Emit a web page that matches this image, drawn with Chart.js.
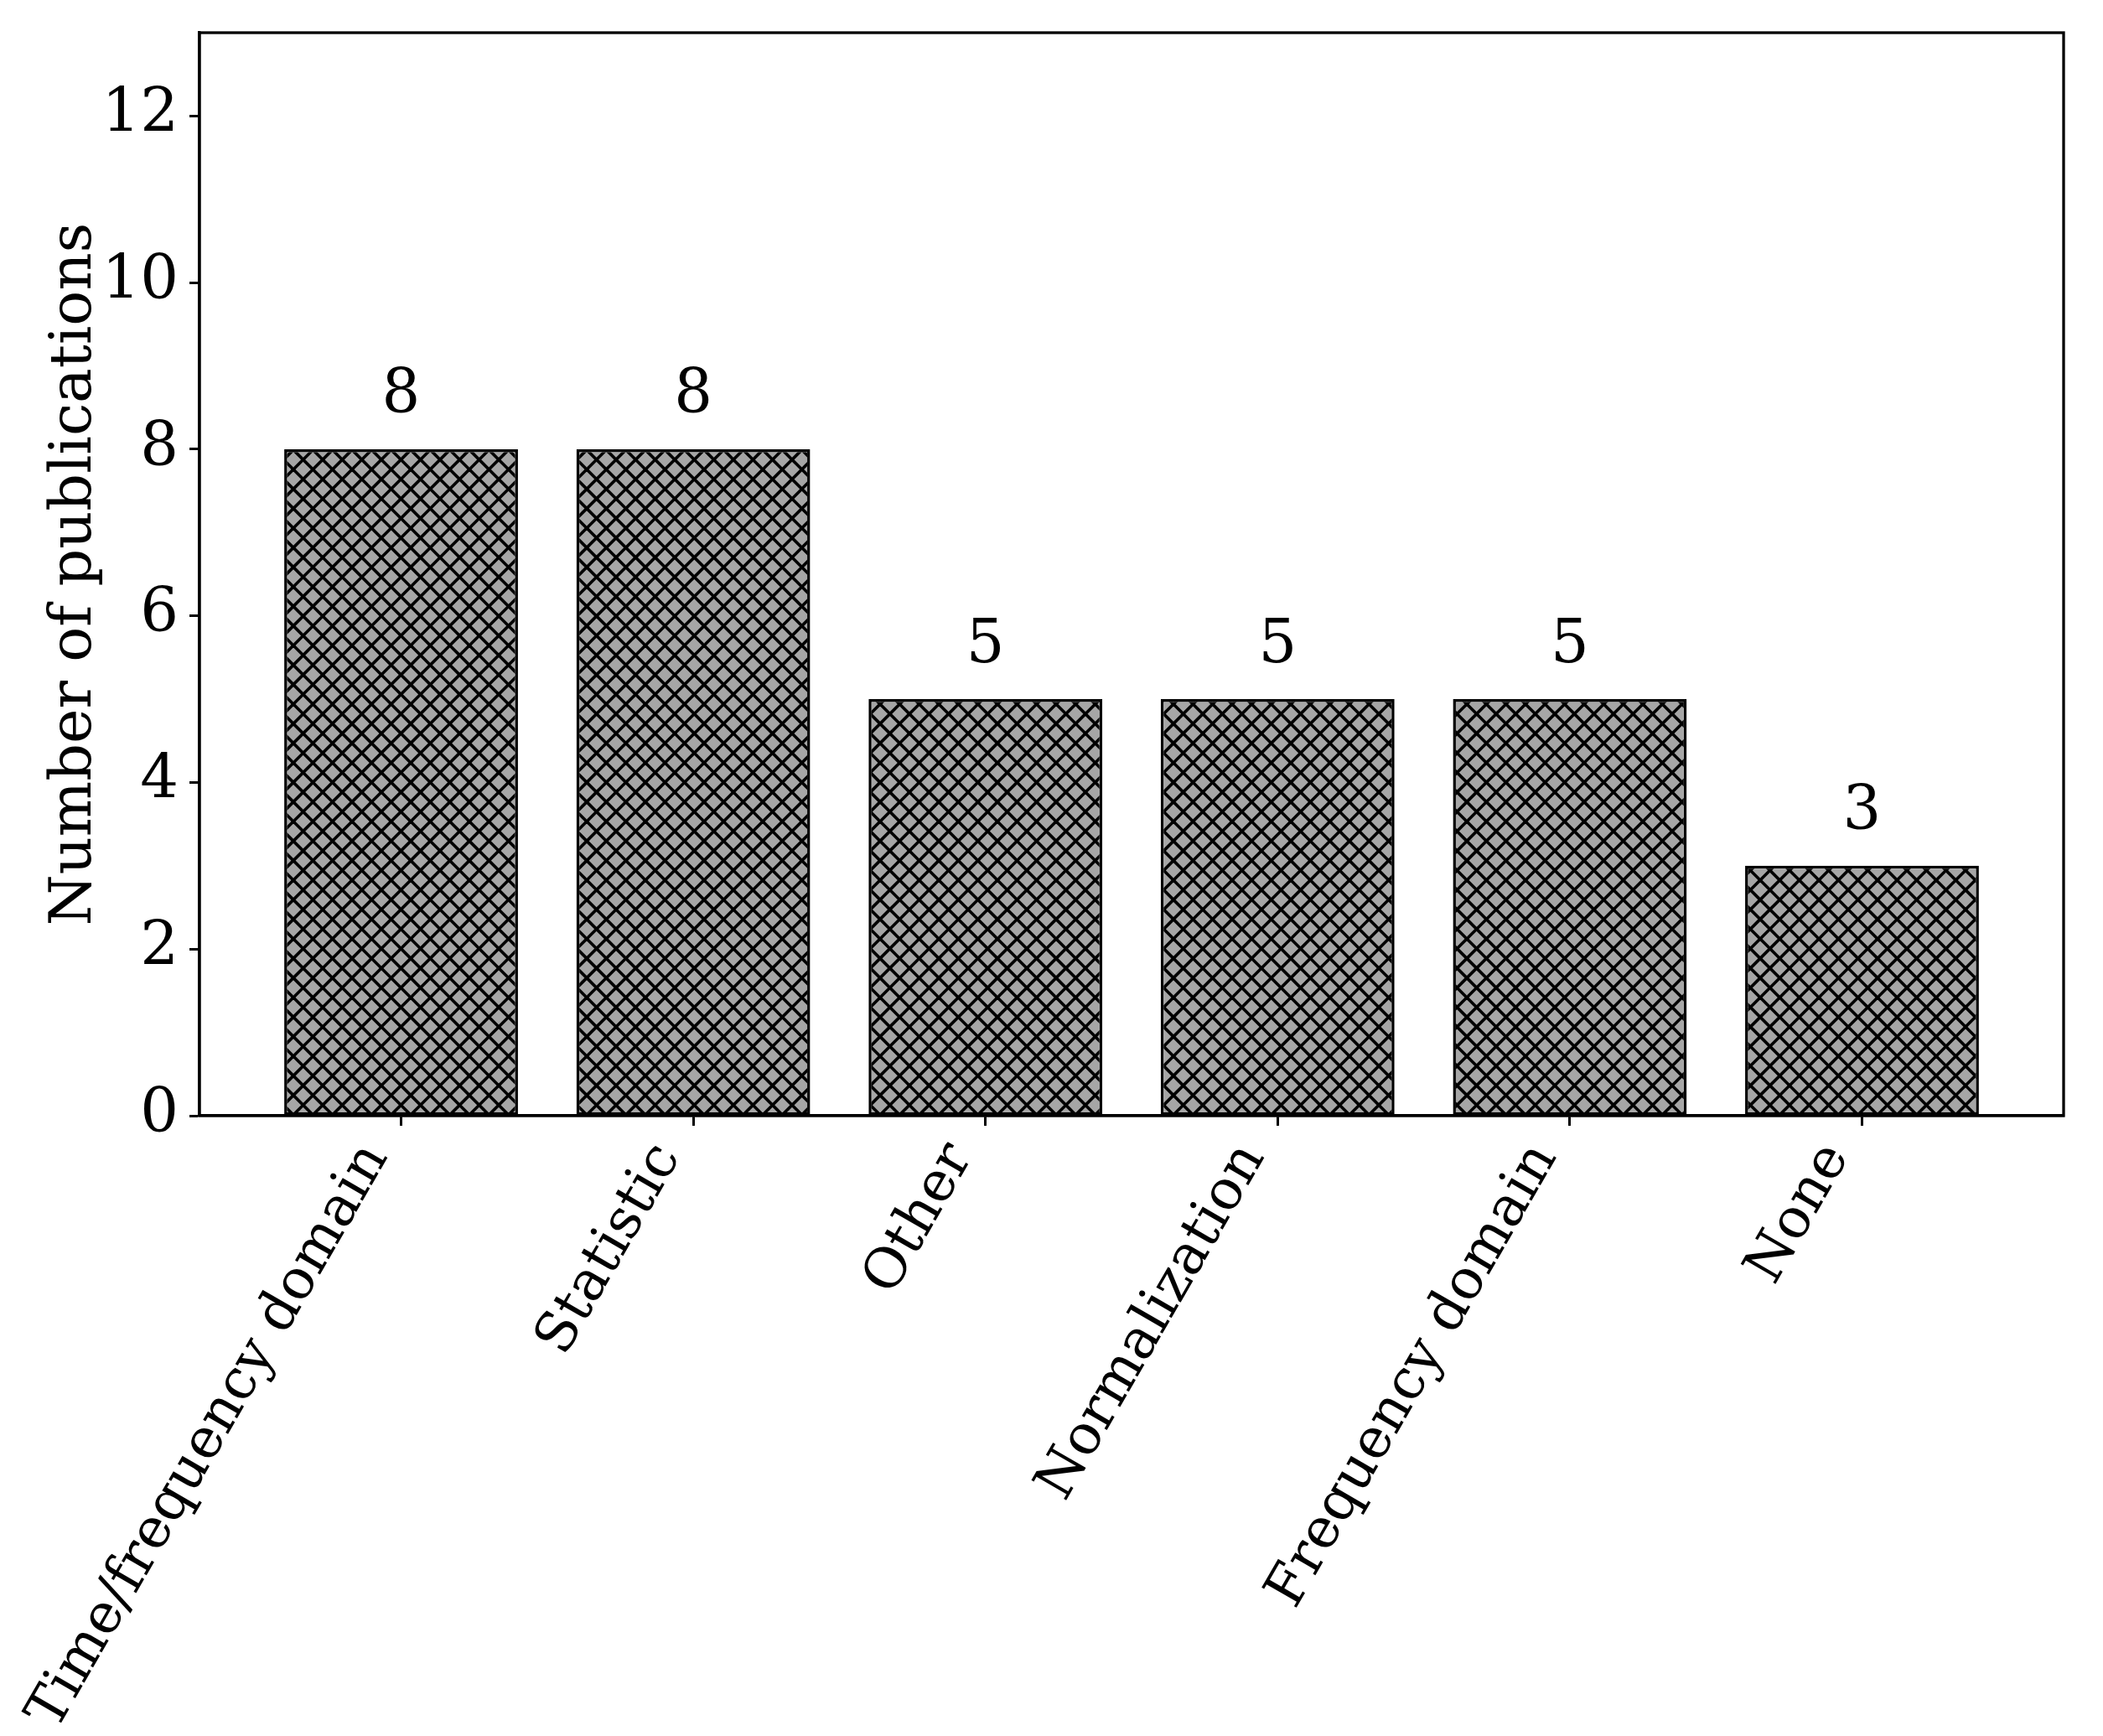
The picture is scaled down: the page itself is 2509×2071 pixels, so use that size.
<!DOCTYPE html>
<html lang="en">
<head>
    <meta charset="UTF-8">
    <title>Number of publications</title>
    <script src="https://cdn.jsdelivr.net/npm/chart.js"></script>
    <style>
        html, body { margin: 0; padding: 0; background: #fff; }
        #wrap { width: 2509px; height: 2071px; }
    </style>
</head>
<body>
    <div id="wrap"><canvas id="chart"></canvas></div>

    <script>
        // data
        const categories = ['Time/frequency domain', 'Statistic', 'Other', 'Normalization', 'Frequency domain', 'None'];
        const counts = [8, 8, 5, 5, 5, 3];
        const yTicks = [0, 2, 4, 6, 8, 10, 12];

        const FONT = "'DejaVu Serif', 'Liberation Serif', serif";
        const FS = 72;

        // grey fill with black cross hatch (like matplotlib hatch='xx')
        function makeHatch() {
            const size = 70, step = size / 3;
            const c = document.createElement('canvas');
            c.width = size; c.height = size;
            const g = c.getContext('2d');
            g.fillStyle = '#a6a6a6';
            g.fillRect(0, 0, size, size);
            g.strokeStyle = '#000';
            g.lineWidth = 3.6;
            for (let k = -4; k <= 8; k++) {
                const o = k * step;
                g.beginPath(); g.moveTo(o - size, -size); g.lineTo(o + 2 * size, 2 * size); g.stroke();
                g.beginPath(); g.moveTo(o + size, -size); g.lineTo(o - 2 * size, 2 * size); g.stroke();
            }
            return g.createPattern(c, 'repeat');
        }

        // box around the plot area + value labels above bars
        const extras = {
            id: 'extras',
            afterDatasetsDraw(chart) {
                const ctx = chart.ctx;
                const a = chart.chartArea;
                const y = chart.scales.y;
                ctx.save();
                ctx.fillStyle = '#000';
                ctx.font = FS + 'px ' + FONT;
                ctx.textAlign = 'center';
                ctx.textBaseline = 'alphabetic';
                chart.getDatasetMeta(0).data.forEach((bar, i) => {
                    ctx.fillText(String(counts[i]), bar.x, y.getPixelForValue(counts[i] + 0.44));
                });
                ctx.strokeStyle = '#000';
                ctx.lineWidth = 3.3;
                ctx.strokeRect(a.left, a.top, a.right - a.left, a.bottom - a.top);
                ctx.restore();
            }
        };

        new Chart(document.getElementById('chart'), {
            type: 'bar',
            data: {
                datasets: [{
                    data: counts.map((v, i) => ({ x: i, y: v })),
                    backgroundColor: makeHatch(),
                    borderColor: '#000',
                    borderWidth: 3.5,
                    borderSkipped: false,
                    barPercentage: 0.8,
                    categoryPercentage: 1.0
                }]
            },
            options: {
                responsive: true,
                maintainAspectRatio: false,
                animation: false,
                layout: { padding: { left: 0, right: 47, top: 39, bottom: 0 } },
                plugins: { legend: { display: false }, tooltip: { enabled: false } },
                scales: {
                    x: {
                        type: 'linear',
                        min: -0.69,
                        max: 5.69,
                        offset: false,
                        afterBuildTicks: (s) => { s.ticks = categories.map((c, i) => ({ value: i })); },
                        afterFit: (s) => { s.height = 2071 - 1331; s.paddingRight = 0; },
                        grid: { offset: false, drawOnChartArea: false, drawTicks: true, tickLength: 12, tickWidth: 3, tickColor: '#000' },
                        border: { display: true, color: '#000', width: 3.3 },
                        ticks: {
                            autoSkip: false,
                            maxRotation: 60,
                            minRotation: 60,
                            padding: 8,
                            labelOffset: -30,
                            color: '#000',
                            font: { family: FONT, size: 66 },
                            callback: (v) => categories[v]
                        }
                    },
                    y: {
                        min: 0,
                        max: 13,
                        afterBuildTicks: (s) => { s.ticks = yTicks.map(v => ({ value: v })); },
                        afterFit: (s) => { s.width = 238; s.paddingTop = 0; s.paddingBottom = 0; },
                        grid: { drawOnChartArea: false, drawTicks: true, tickLength: 12, tickWidth: 3, tickColor: '#000' },
                        border: { display: true, color: '#000', width: 3.3 },
                        ticks: {
                            padding: 13,
                            color: '#000',
                            font: { family: FONT, size: FS }
                        },
                        title: {
                            display: true,
                            text: 'Number of publications',
                            color: '#000',
                            font: { family: FONT, size: 70 },
                            padding: { top: 48, bottom: 0 }
                        }
                    }
                }
            },
            plugins: [extras]
        });
    </script>
</body>
</html>
